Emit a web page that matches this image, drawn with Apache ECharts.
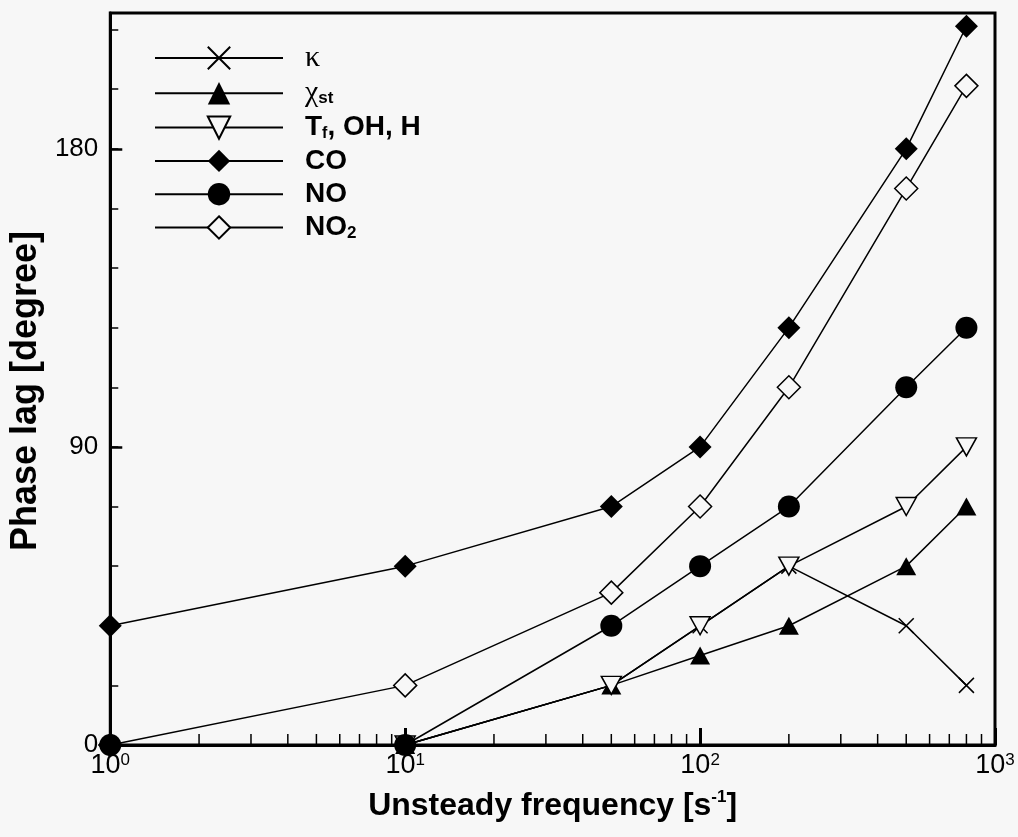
<!DOCTYPE html>
<html><head><meta charset="utf-8">
<script src="https://cdn.jsdelivr.net/npm/echarts@6/dist/echarts.min.js"></script>
<style>html,body{margin:0;padding:0;background:#f7f7f7;}#c{width:1018px;height:837px;}</style>
</head><body><div id="c"></div>
<script>
// ---- data ----
const freq = [1, 10, 50, 100, 200, 500, 800];
const kappa = [null, 0, 18, 36, 54, 36, 18];
const chiSt = [null, 0, 18, 27, 36, 54, 72];
const tfOhH = [null, 0, 18, 36, 54, 72, 90];
const co = [36, 54, 72, 90, 126, 180, 217];
const no = [0, 0, 36, 54, 72, 108, 126];
const no2 = [0, 18, 46, 72, 108, 168, 199];
const seriesNames = ['κ', 'χst', 'Tf, OH, H', 'CO', 'NO', 'NO2'];
const xTickValues = [1, 10, 100, 1000];
const xMinorTickValues = [2, 3, 4, 5, 6, 7, 8, 9, 20, 30, 40, 50, 60, 70, 80, 90, 200, 300, 400, 500, 600, 700, 800, 900];
const yTickValues = [0, 90, 180];

// ---- chart ----
const BG = '#f7f7f7';
const SANS = 'Liberation Sans, Arial, sans-serif';
const SERIF = 'Liberation Serif, DejaVu Serif, serif';
function pairs(ys) {
  const out = [];
  freq.forEach((f, i) => { if (ys[i] !== null) out.push([f, ys[i]]); });
  return out;
}
const legendRichText = {
  'κ': '{k|κ}',
  'χst': '{g|χ}{sub|st}',
  'Tf, OH, H': '{t|T}{subf|f}{t|, OH, H}',
  'CO': '{t|CO}',
  'NO': '{t|NO}',
  'NO2': '{t|NO}{sub|2}'
};
const lineStyle = { color: '#000', width: 1.5 };
function lineSeries(name, ys, symbol, size, itemStyle, extra) {
  return Object.assign({
    type: 'line', name: name, data: pairs(ys), symbol: symbol, symbolSize: size,
    showAllSymbol: true, clip: false, lineStyle: lineStyle, itemStyle: itemStyle,
    emphasis: { disabled: true }, silent: true, z: 2
  }, extra || {});
}
const chart = echarts.init(document.getElementById('c'), null, { renderer: 'canvas' });
chart.setOption({
  animation: false,
  backgroundColor: BG,
  grid: { left: 107, right: 23, top: 13, bottom: 92, show: true, borderColor: '#000', borderWidth: 3, backgroundColor: 'transparent' },
  legend: {
    data: seriesNames, orient: 'vertical', left: 149, top: 38,
    itemWidth: 128, itemHeight: 28, itemGap: 5.3,
    selectedMode: false,
    formatter: n => legendRichText[n],
    textStyle: {
      padding: [0, 0, 0, 17],
      rich: {
        t: { fontFamily: SANS, fontWeight: 'bold', fontSize: 28, color: '#000', lineHeight: 28 },
        k: { fontFamily: SERIF, fontSize: 30, color: '#000', lineHeight: 28 },
        g: { fontFamily: SERIF, fontSize: 30, color: '#000', lineHeight: 28 },
        sub: { fontFamily: SANS, fontWeight: 'bold', fontSize: 17, color: '#000', verticalAlign: 'bottom', lineHeight: 8 },
        subf: { fontFamily: SANS, fontWeight: 'bold', fontSize: 16, color: '#000', verticalAlign: 'bottom', lineHeight: 8 }
      }
    }
  },
  xAxis: {
    type: 'log', logBase: 10, min: 1, max: 1000,
    axisLine: { show: true, lineStyle: { color: '#000', width: 3 } },
    axisTick: { show: true, inside: true, length: 17, lineStyle: { color: '#000', width: 3 } },
    splitLine: { show: false },
    axisLabel: {
      margin: 7, color: '#000',
      formatter: v => xTickValues.indexOf(v) >= 0 ? '{b|10}{s|' + Math.round(Math.log10(v)) + '}' : '',
      rich: {
        b: { fontFamily: SANS, fontSize: 27, lineHeight: 27, color: '#000' },
        s: { fontFamily: SANS, fontSize: 17, lineHeight: 15, verticalAlign: 'top', color: '#000' }
      }
    },
    name: '{a|Unsteady frequency [s}{s|-1}{a|]}',
    nameLocation: 'middle', nameGap: 44,
    nameTextStyle: {
      rich: {
        a: { fontFamily: SANS, fontWeight: 'bold', fontSize: 32, lineHeight: 34, color: '#000' },
        s: { fontFamily: SANS, fontWeight: 'bold', fontSize: 17, lineHeight: 17, verticalAlign: 'top', color: '#000' }
      }
    }
  },
  yAxis: [{
    type: 'value', min: 0, max: 221, interval: 90, position: 'left',
    axisLine: { show: true, lineStyle: { color: '#000', width: 3 } },
    axisTick: { show: true, inside: true, length: 12, lineStyle: { color: '#000', width: 2.5 } },
    splitLine: { show: false },
    axisLabel: {
      showMaxLabel: false, margin: 12, color: '#000', fontFamily: SANS, fontSize: 26,
      formatter: v => yTickValues.indexOf(v) >= 0 ? String(v) : ''
    },
    name: 'Phase lag [degree]', nameLocation: 'middle', nameGap: 58,
    nameTextStyle: { fontFamily: SANS, fontWeight: 'bold', fontSize: 36, color: '#000', padding: [0, 24, 0, 0] }
  }, {
    type: 'value', min: 0, max: 221, interval: 18, position: 'left',
    axisLine: { show: false },
    axisTick: { show: true, inside: true, length: 8, lineStyle: { color: '#000', width: 1.5 } },
    axisLabel: { show: false }, splitLine: { show: false }
  }],
  series: [
    {
      type: 'custom', name: 'xMinorTicks', silent: true, clip: false, z: 1,
      data: xMinorTickValues.map(v => [v, 0]),
      encode: { x: 0, y: 1 },
      renderItem: (params, api) => {
        const p = api.coord([api.value(0), api.value(1)]);
        return { type: 'line', shape: { x1: p[0], y1: p[1], x2: p[0], y2: p[1] - 11 }, style: { stroke: '#000', lineWidth: 1.5 } };
      }
    },
    lineSeries('κ', kappa, 'path://M0,0L10,10M10,0L0,10', 15, { color: 'none', borderColor: '#000', borderWidth: 1.5 }),
    lineSeries('χst', chiSt, 'triangle', [20, 18], { color: '#000' }),
    lineSeries('Tf, OH, H', tfOhH, 'triangle', [20, 18], { color: BG, borderColor: '#000', borderWidth: 1.5 }, { symbolRotate: 180 }),
    lineSeries('CO', co, 'diamond', 23, { color: '#000' }),
    lineSeries('NO', no, 'circle', 22, { color: '#000' }, { z: 4 }),
    lineSeries('NO2', no2, 'diamond', 23, { color: BG, borderColor: '#000', borderWidth: 1.5 })
  ]
});
</script>
</body></html>
